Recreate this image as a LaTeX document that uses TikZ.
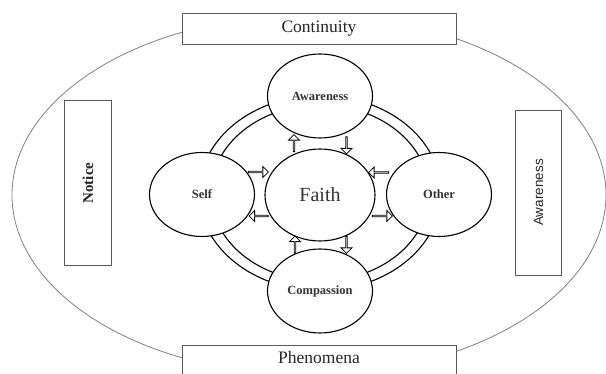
\documentclass[tikz,border=0pt]{standalone}
\usepackage{fontspec}
\setmainfont{Liberation Serif}
\newfontfamily\arialfont{Liberation Sans}
\usetikzlibrary{shapes.geometric,shapes.arrows}
\begin{document}
\begin{tikzpicture}[x=1pt,y=-1pt,
  outline/.style={draw=black!50, line width=0.8pt},
  labelbox/.style={draw=black!65, fill=white, line width=0.9pt, inner sep=0pt, text=black!85},
  bubble/.style={ellipse, draw=black, fill=white, line width=1.1pt, minimum width=105pt, minimum height=84pt, inner sep=0pt, font=\fontsize{12.5}{14}\selectfont\bfseries, text=black!80},
  ring/.style={draw=black, line width=1.1pt},
  blockarrow/.style={single arrow, draw=black, fill=white, line width=0.8pt, minimum height=17pt, minimum width=11pt, single arrow head extend=2.5pt, single arrow head indent=0pt, inner sep=0pt}
]
\useasboundingbox (0,0) rectangle (606,374);
\clip (0,0) rectangle (606,374);
% outer ellipse
\coordinate (oc) at (309,195);
\draw[outline] (oc) ellipse [x radius=297pt, y radius=180pt];
% label boxes
\node[labelbox, minimum width=274pt, minimum height=31pt, font=\fontsize{17.5}{20}\selectfont] (cont) at (319,28.5) {Continuity};
\node[labelbox, minimum width=274pt, minimum height=40pt] (phenbox) at (319,365) {};
\node[font=\fontsize{17.5}{20}\selectfont, text=black!85, inner sep=0pt] (phen) at (319,358) {Phenomena};
\node[labelbox, rotate=90, minimum width=165pt, minimum height=46.5pt, font=\fontsize{15}{18}\selectfont\bfseries] (notice) at (88,183) {Notice};
\node[labelbox, rotate=90, minimum width=165pt, minimum height=46.5pt, font=\arialfont\fontsize{13.5}{16}\selectfont] (aware2) at (538.5,192.5) {Awareness};
% double ring
\coordinate (ctr) at (320,193);
\draw[ring] (ctr) ellipse [x radius=121pt, y radius=97.5pt];
\draw[ring] (ctr) ellipse [x radius=109pt, y radius=88pt];
% circles
\node[bubble, minimum width=110pt, minimum height=92pt, font=\fontsize{20}{24}\selectfont] (faith) at (320,195) {Faith};
\node[bubble] (aw) at (320,96) {Awareness};
\node[bubble] (self) at (202,194.5) {Self};
\node[bubble] (other) at (439,194.5) {Other};
\node[bubble] (comp) at (320,291) {Compassion};
% block arrows
\node[blockarrow, rotate=90] (a1) at (294,143.5) {};
\node[blockarrow, rotate=-90] (a2) at (346.5,145) {};
\node[blockarrow, rotate=90] (a3) at (295,245) {};
\node[blockarrow, rotate=-90] (a4) at (346.5,244.5) {};
\node[blockarrow, minimum height=20pt] (a5) at (258,172) {};
\node[blockarrow, minimum height=19pt, rotate=180] (a6) at (259,216) {};
\node[blockarrow, minimum height=20pt, rotate=180] (a7) at (379,172.5) {};
\node[blockarrow, minimum height=20pt] (a8) at (382,216) {};
\end{tikzpicture}
\end{document}
